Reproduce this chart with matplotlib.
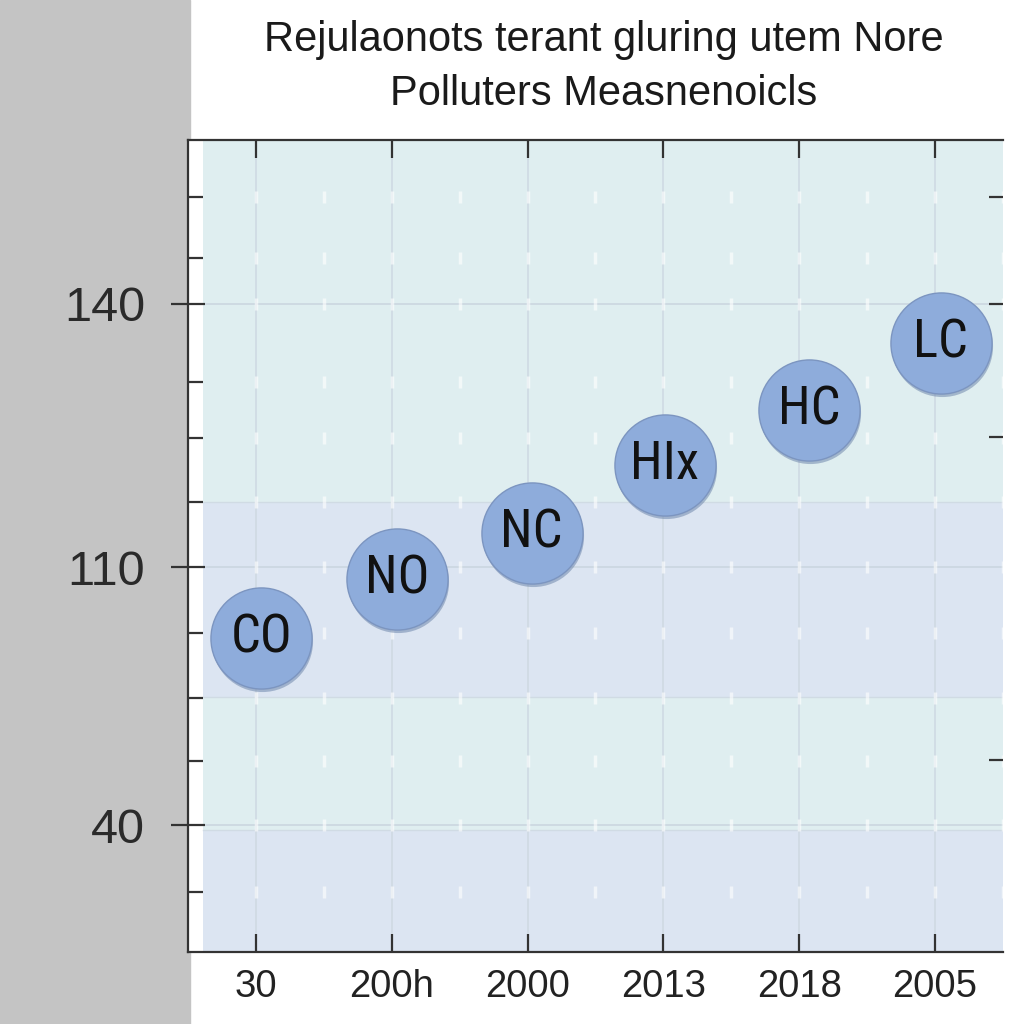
import numpy as np
import matplotlib
matplotlib.use('Agg')
import matplotlib.pyplot as plt
from matplotlib import font_manager
from matplotlib.patches import Rectangle
from matplotlib.transforms import offset_copy

# data
pollutants = ['CO', 'NO', 'NC', 'HIx', 'HC', 'LC']
bubble_x = [0.04, 1.04, 2.03, 3.01, 4.07, 5.04]
bubble_y = [4.83, 5.74, 6.45, 7.50, 8.34, 9.37]
x_labels = ['30', '200h', '2000', '2013', '2018', '2005']
y_major = [1.95, 5.92, 9.98]
y_major_labels = ['40', '110', '140']
y_minor = [0.92, 2.94, 3.91, 4.91, 6.92, 7.91, 8.77, 10.69, 11.62]
right_ticks = [2.96, 7.93, 9.98, 11.62]
title = 'Rejulaonots terant gluring utem Nore\nPolluters Measnenoicls'

cyan = '#dfeef0'
lav = '#dce5f2'
bands = [(0, 1.88, lav), (1.88, 3.92, cyan), (3.92, 6.92, lav), (6.92, 12.5, cyan)]

installed = {f.name for f in font_manager.fontManager.ttflist}
def pick(names):
    for n in names:
        if n in installed:
            return n
    return 'DejaVu Sans'
main_font = pick(['Liberation Sans', 'Arial', 'DejaVu Sans'])
bubble_font = pick(['Liberation Sans Narrow', 'Roboto Condensed', 'Roboto', 'Liberation Sans'])
plt.rcParams['font.family'] = main_font

fig = plt.figure(figsize=(10.24, 10.24), dpi=100)
fig.patches.append(Rectangle((0, 0), 190 / 1024, 1, transform=fig.transFigure,
                             color='#c4c4c4', zorder=-5))

ax = fig.add_axes([188 / 1024, 1 - 952 / 1024, (1003 - 188) / 1024, (952 - 140) / 1024])
ax.set_facecolor('white')
ax.set_xlim(-0.5, 5.5)
ax.set_ylim(0, 12.5)

# background bands
for lo, hi, c in bands:
    ax.axhspan(lo, hi, xmin=0.018, xmax=1, color=c, zorder=0, lw=0)
    ax.axhline(lo, xmin=0.018, color='#d0dbe4', lw=1, zorder=0.5)

# grid lines
for xv in range(len(x_labels)):
    ax.axvline(xv, color='#cfdae3', lw=1.2, zorder=0.5)
for yv in y_major:
    ax.axhline(yv, xmin=0.018, color='#cbd6e0', lw=1.2, zorder=0.5)

# white dash texture
tx, ty = np.meshgrid(np.arange(-0.5, 5.51, 0.5), y_minor + y_major)
ax.plot(tx.ravel(), ty.ravel(), ls='none', marker='|', ms=8, mew=2.5,
        color='white', alpha=0.6, zorder=0.6)

# bubbles
shadow = offset_copy(ax.transData, fig=fig, x=1, y=-3, units='dots')
ax.scatter(bubble_x, bubble_y, s=5300, color='#7088ad', alpha=0.55,
           transform=shadow, zorder=2, lw=0)
ax.scatter(bubble_x, bubble_y, s=5300, color='#8eacdb', edgecolor='#7c95c0',
           lw=1, zorder=3)
for name, bx, by in zip(pollutants, bubble_x, bubble_y):
    ax.text(bx, by, name, ha='center', va='center', fontsize=38,
            family=bubble_font, color='#111111', zorder=4)

# axes styling
for s in ['left', 'bottom', 'top']:
    ax.spines[s].set_linewidth(1.6)
    ax.spines[s].set_color('#333333')
ax.spines['right'].set_visible(False)

ax.set_xticks(range(len(x_labels)))
ax.set_xticklabels(x_labels)
ax.tick_params(axis='x', which='both', direction='in', length=13, width=1.6,
               color='#333333', top=True, labelsize=27.5, pad=12, labelcolor='#222222')

ax.set_yticks(y_major)
ax.set_yticklabels(y_major_labels)
ax.set_yticks(y_minor, minor=True)
ax.tick_params(axis='y', which='major', direction='inout', length=24, width=1.6,
               color='#333333', labelsize=35, pad=19, labelcolor='#2a2a2a')
ax.tick_params(axis='y', which='minor', direction='in', length=11, width=1.6,
               color='#333333')

ax2 = ax.twinx()
ax2.set_ylim(ax.get_ylim())
ax2.set_yticks(right_ticks)
ax2.tick_params(axis='y', direction='in', length=10, width=1.6, color='#333333',
                labelright=False)
for s in ax2.spines.values():
    s.set_visible(False)

fig.text(604 / 1024, 1 - 67 / 1024, title, ha='center', va='center',
         fontsize=30, color='#1a1a1a', linespacing=1.42)

fig.savefig('out.png', dpi=100)
